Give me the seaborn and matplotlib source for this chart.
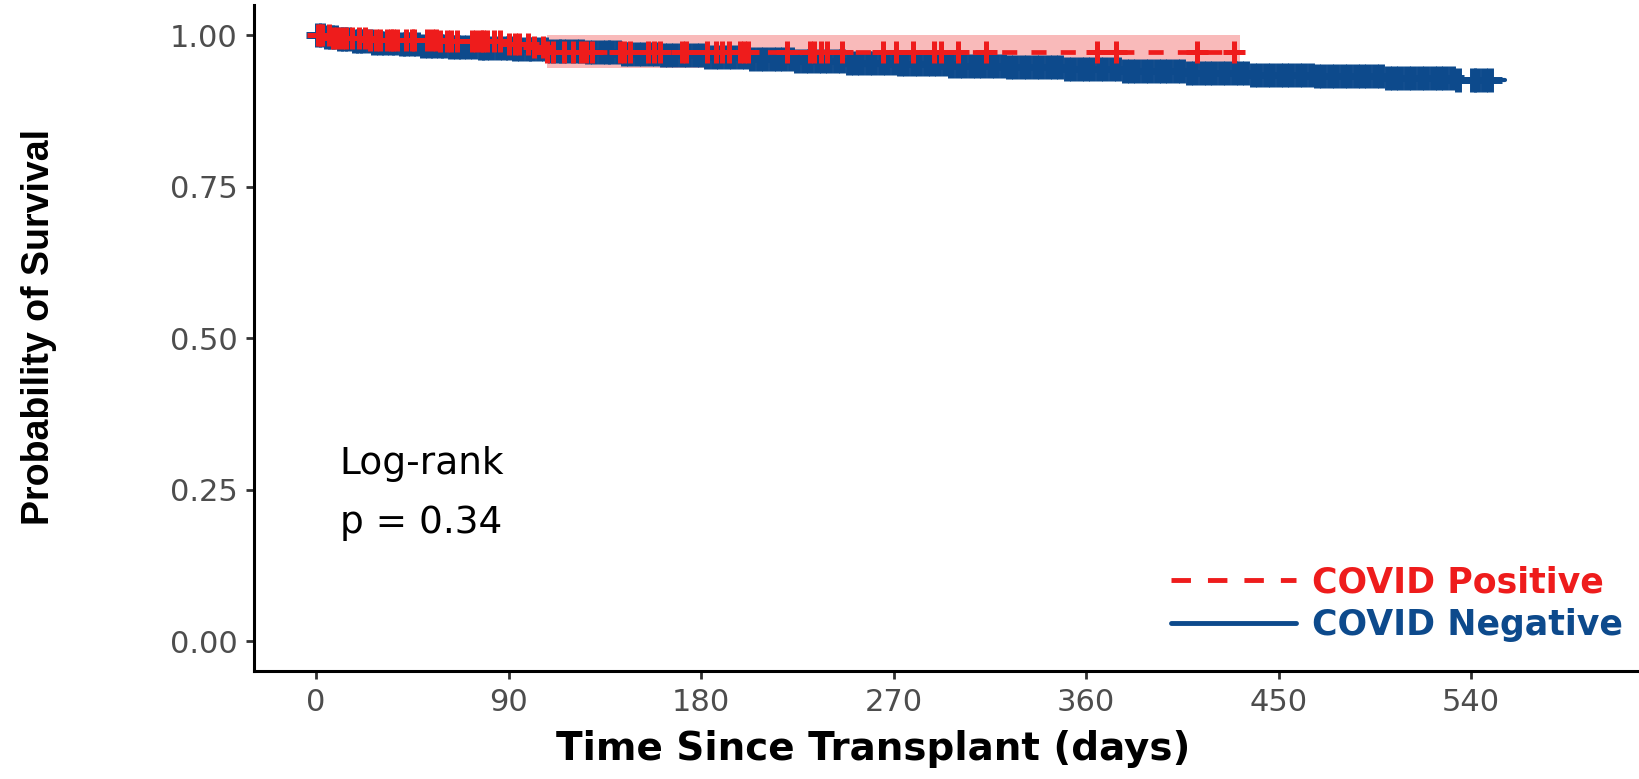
import matplotlib
matplotlib.use("Agg")
import matplotlib.pyplot as plt
import seaborn as sns
import numpy as np
import pandas as pd
from matplotlib.lines import Line2D

# ---- Kaplan-Meier estimates -------------------------------------------------
group_labels = ["COVID Positive", "COVID Negative"]

# COVID Negative: step changes (days) and survival probability
neg_days = [0, 4, 10, 18, 27, 38, 50, 63, 77, 92, 108, 125, 143, 162, 182, 203,
            225, 248, 272, 297, 323, 350, 378, 407, 437, 468, 500, 532, 556]
neg_surv = [1.000, 0.997, 0.994, 0.991, 0.988, 0.985, 0.983, 0.981, 0.979, 0.977,
            0.974, 0.972, 0.969, 0.967, 0.964, 0.961, 0.958, 0.955, 0.952, 0.949,
            0.947, 0.944, 0.941, 0.938, 0.935, 0.932, 0.929, 0.926, 0.926]
neg_censor = [1, 3, 5, 7, 9, 11, 13, 15, 18, 20, 22, 25, 27, 30, 32, 35, 37, 40,
              42, 45, 47, 50, 53, 55, 58, 60, 63, 66, 68, 71, 74, 77, 79, 82, 85,
              88, 90, 93, 96, 99, 101, 104, 107, 110, 113, 115, 118, 121, 124, 127,
              130, 133, 136, 138, 141, 144, 147, 150, 153, 156, 159, 162, 165, 168,
              171, 174, 177, 180, 183, 186, 189, 192, 195, 198, 201, 204, 207, 210,
              213, 216, 219, 222, 225, 228, 231, 234, 237, 240, 243, 246, 249, 252,
              255, 258, 261, 264, 267, 270, 273, 276, 279, 282, 285, 288, 291, 294,
              297, 300, 303, 306, 309, 312, 315, 318, 321, 324, 327, 330, 333, 336,
              339, 342, 345, 348, 351, 354, 357, 360, 363, 366, 369, 372, 375, 378,
              381, 384, 387, 390, 393, 396, 399, 402, 405, 408, 411, 414, 417, 420,
              423, 426, 429, 432, 435, 438, 441, 444, 447, 450, 453, 456, 459, 462,
              465, 468, 471, 474, 477, 480, 483, 486, 489, 492, 495, 498, 501, 504,
              507, 510, 513, 516, 519, 522, 525, 528, 531, 534, 541, 543, 546, 549]

# COVID Positive: step changes (days) and survival probability
pos_days = [0, 8, 25, 58, 88, 102, 108, 432]
pos_surv = [1.000, 0.996, 0.993, 0.990, 0.986, 0.980, 0.972, 0.972]
pos_censor = [1, 2, 3, 6, 8, 10, 12, 14, 17, 20, 23, 25, 28, 30, 33, 35, 36, 38,
              42, 45, 46, 52, 54, 56, 58, 61, 63, 66, 73, 75, 77, 78, 80, 83, 86,
              90, 93, 95, 99, 102, 106, 108, 111, 116, 120, 124, 126, 129, 142, 144,
              147, 155, 158, 161, 171, 173, 183, 187, 190, 193, 198, 200, 202, 220,
              231, 233, 236, 239, 246, 265, 271, 279, 289, 292, 300, 313, 365, 374,
              412, 429]
# 95% confidence band for COVID Positive
pos_ci_days = [108, 432]
pos_ci_lower = [0.946, 0.946]
pos_ci_upper = [1.000, 1.000]

x_ticks = [0, 90, 180, 270, 360, 450, 540]
y_ticks = [0.00, 0.25, 0.50, 0.75, 1.00]
y_tick_labels = ["0.00", "0.25", "0.50", "0.75", "1.00"]
logrank_lines = ["Log-rank", "p = 0.34"]

RED = "#EE1C1C"
BLUE = "#0D4A8C"


def surv_at(days, surv, t):
    idx = np.searchsorted(np.asarray(days), np.asarray(t), side="right") - 1
    return np.asarray(surv)[idx]


sns.set_theme(style="ticks")
plt.rcParams["font.family"] = ["DejaVu Sans"]

fig = plt.figure(figsize=(16.4, 7.79), dpi=100)
ax = fig.add_axes([0.1549, 0.138, 0.8451, 0.8556])

# confidence band
ax.fill_between(pos_ci_days, pos_ci_lower, pos_ci_upper, step="post",
                color=RED, alpha=0.3, lw=0, zorder=1)

# COVID Negative curve + censor marks
neg_df = pd.DataFrame({"day": neg_days, "surv": neg_surv})
sns.lineplot(data=neg_df, x="day", y="surv", drawstyle="steps-post", color=BLUE,
             lw=3, estimator=None, sort=False, ax=ax, zorder=2)
sns.scatterplot(x=neg_censor, y=surv_at(neg_days, neg_surv, neg_censor),
                marker="+", s=300, linewidth=5, color=BLUE, ax=ax, zorder=3)

# COVID Positive curve + censor marks
pos_df = pd.DataFrame({"day": pos_days, "surv": pos_surv})
sns.lineplot(data=pos_df, x="day", y="surv", drawstyle="steps-post", color=RED,
             lw=3.4, linestyle=(0, (3.2, 3)), estimator=None, sort=False, ax=ax,
             zorder=4)
sns.scatterplot(x=pos_censor, y=surv_at(pos_days, pos_surv, pos_censor),
                marker="+", s=230, linewidth=3.6, color=RED, ax=ax, zorder=5)

# axes
ax.set_xlim(-29, 619)
ax.set_ylim(-0.05, 1.05)
ax.set_xticks(x_ticks)
ax.set_yticks(y_ticks)
ax.set_yticklabels(y_tick_labels)
sns.despine(ax=ax)
for side in ["left", "bottom"]:
    ax.spines[side].set_linewidth(2.2)
    ax.spines[side].set_color("black")
ax.tick_params(axis="both", length=6, width=2, color="#333333",
               labelsize=22, labelcolor="#4D4D4D", pad=6)

ax.set_xlabel("Time Since Transplant (days)", fontsize=28, fontweight="bold",
              color="black")
ax.xaxis.set_label_coords(0.447, -0.116)
ax.xaxis.label.set_va("center")
ax.set_ylabel("Probability of Survival", fontsize=27, fontweight="bold",
              color="black", family=["Liberation Sans", "DejaVu Sans"])
ax.yaxis.set_label_coords(-0.155, 0.517)
ax.yaxis.label.set_va("center")

# log-rank annotation
ax.text(11, 0.292, logrank_lines[0], fontsize=27, color="black",
        ha="left", va="center")
ax.text(11, 0.195, logrank_lines[1], fontsize=27, color="black",
        ha="left", va="center")

# legend
handles = [Line2D([], [], color=RED, lw=3.5, linestyle=(0, (4, 3.5))),
           Line2D([], [], color=BLUE, lw=3.5)]
leg = ax.legend(handles=handles, labels=group_labels, loc="center left",
                bbox_to_anchor=(0.714, 0.2247), bbox_transform=fig.transFigure,
                frameon=False, prop={"weight": "bold", "size": 25},
                handlelength=3.6, handletextpad=0.45, labelspacing=0.25,
                borderpad=0, borderaxespad=0)
for txt, col in zip(leg.get_texts(), [RED, BLUE]):
    txt.set_color(col)

fig.savefig("out.png", dpi=100, facecolor="white")
